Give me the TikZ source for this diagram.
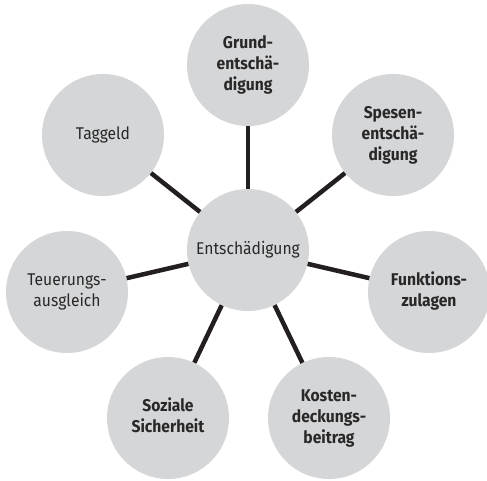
\documentclass[tikz,border=0pt]{standalone}
\usepackage{fontspec}
\setmainfont[FakeStretch=0.92]{Fira Sans}
\definecolor{circfill}{RGB}{213,214,216}
\definecolor{txtcol}{RGB}{40,40,40}
\definecolor{linecol}{RGB}{35,31,32}
\begin{document}
\begin{tikzpicture}[x=1pt,y=-1pt,
  circ/.style={circle,fill=circfill,minimum size=122pt,inner sep=0pt,align=center,
    text=txtcol,font=\fontsize{17}{21}\selectfont},
  boldcirc/.style={circ,font=\fontsize{17}{21}\selectfont\bfseries},
  lower/.style={text depth=0pt,yshift=0pt},
  conn/.style={draw=linecol,line width=4.5pt}]
\useasboundingbox (0,0) rectangle (487,480);
\node[circ] (c) at (248,250) {Entschädigung};
\node[boldcirc] (grund) at (248,65) {\raisebox{-3pt}{\begin{tabular}{@{}c@{}}Grund-\\entschä-\\digung\end{tabular}}};
\node[boldcirc] (spesen) at (393,135) {\raisebox{-3pt}{\begin{tabular}{@{}c@{}}Spesen-\\entschä-\\digung\end{tabular}}};
\node[boldcirc] (funk) at (429,292) {\raisebox{-3pt}{\begin{tabular}{@{}c@{}}Funktions-\\zulagen\end{tabular}}};
\node[boldcirc] (kosten) at (329,418) {\raisebox{-3pt}{\begin{tabular}{@{}c@{}}Kosten-\\deckungs-\\beitrag\end{tabular}}};
\node[boldcirc] (sozial) at (168,418) {\raisebox{-3pt}{\begin{tabular}{@{}c@{}}Soziale\\Sicherheit\end{tabular}}};
\node[circ] (teuer) at (67,292) {\raisebox{-3pt}{\begin{tabular}{@{}c@{}}Teuerungs-\\ausgleich\end{tabular}}};
\node[circ] (tag) at (103,135) {Taggeld};
\foreach \n in {grund,spesen,funk,kosten,sozial,teuer,tag}{
  \draw[conn] (c) -- (\n);
}
\end{tikzpicture}
\end{document}
